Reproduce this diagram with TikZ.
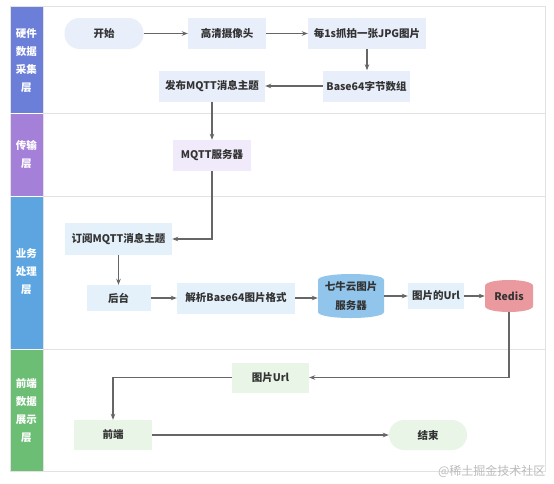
\documentclass[tikz,border=0pt]{standalone}
\usepackage{fontspec}
\setmainfont{Noto Sans CJK SC}
\usetikzlibrary{arrows.meta,calc}
\definecolor{laneA}{HTML}{6C7FD8}
\definecolor{laneB}{HTML}{A580D8}
\definecolor{laneC}{HTML}{5CA5E0}
\definecolor{laneD}{HTML}{6DBE75}
\definecolor{fillA}{HTML}{E9EEFB}
\definecolor{fillB}{HTML}{F0EAFA}
\definecolor{fillC}{HTML}{E4F1FB}
\definecolor{fillD}{HTML}{E8F5E7}
\definecolor{cylC}{HTML}{92C5EC}
\definecolor{cylR}{HTML}{EA9A9F}
\definecolor{txt}{HTML}{333333}
\definecolor{arrowc}{HTML}{666666}
\definecolor{border}{HTML}{E2E2E2}
\definecolor{wm}{HTML}{BBBBBB}
\tikzset{
  box/.style={rectangle, inner sep=0pt, align=center, text=txt,
    font=\fontsize{10.5}{19}\selectfont\bfseries},
  stadium/.style={box, rounded corners=15pt},
  arr/.style={draw=arrowc, line width=1.1pt, -{Stealth[length=6pt,width=4.5pt]}},
  lanelabel/.style={text=white, align=center, font=\fontsize{10.5}{18}\selectfont\bfseries},
}
\newcommand{\cylfill}[5]{% center x, center y, width, height, color
  \fill[#5] ($(#1,#2)+(-#3/2,-#4/2+6)$)
    .. controls ($(#1,#2)+(-#3/2,-#4/2-2)$) and ($(#1,#2)+(#3/2,-#4/2-2)$) .. ($(#1,#2)+(#3/2,-#4/2+6)$)
    -- ($(#1,#2)+(#3/2,#4/2-6)$)
    .. controls ($(#1,#2)+(#3/2,#4/2+2)$) and ($(#1,#2)+(-#3/2,#4/2+2)$) .. ($(#1,#2)+(-#3/2,#4/2-6)$)
    -- cycle;}
\begin{document}
\begin{tikzpicture}[x=1pt,y=-1pt]
\useasboundingbox (0,0) rectangle (554,483);
\fill[white] (0,0) rectangle (554,483);
% lanes
\fill[laneA] (10,6) rectangle (43,113);
\fill[laneB] (10,113) rectangle (43,196);
\fill[laneC] (10,196) rectangle (43,349);
\fill[laneD] (10,349) rectangle (43,471);
\draw[border, line width=0.8pt] (10,6) rectangle (545,471);
\draw[border, line width=0.8pt] (43,6) -- (43,471);
\draw[border, line width=0.8pt] (43,113) -- (545,113);
\draw[border, line width=0.8pt] (43,196) -- (545,196);
\draw[border, line width=0.8pt] (43,349) -- (545,349);
\draw[white, line width=0.6pt] (10,113) -- (43,113) (10,196) -- (43,196) (10,349) -- (43,349);
\node[lanelabel] (l1) at (26.5,61) {硬件\\数据\\采集\\层};
\node[lanelabel] (l2) at (26.5,155) {传输\\层};
\node[lanelabel] (l3) at (26.5,272) {业务\\处理\\层};
\node[lanelabel] (l4) at (26.5,411) {前端\\数据\\展示\\层};
% nodes
\node[stadium, fill=fillA, minimum width=79pt, minimum height=31pt] (start) at (104,33.5) {开始};
\node[box, fill=fillA, minimum width=78pt, minimum height=31pt] (cam) at (227,33.5) {高清摄像头};
\node[box, fill=fillA, minimum width=118pt, minimum height=31pt] (snap) at (367,33.5) {每1s抓拍一张JPG图片};
\node[box, fill=fillA, minimum width=87pt, minimum height=31pt] (b64) at (366.5,86) {Base64字节数组};
\node[box, fill=fillA, minimum width=106pt, minimum height=31pt] (pub) at (212,86) {发布MQTT消息主题};
\node[box, fill=fillB, minimum width=78pt, minimum height=31pt] (mqtt) at (212,155.5) {MQTT服务器};
\node[box, fill=fillC, minimum width=107pt, minimum height=32pt] (sub) at (118.5,239) {订阅MQTT消息主题};
\node[box, fill=fillC, minimum width=64pt, minimum height=26pt] (back) at (118.5,298) {后台};
\node[box, fill=fillC, minimum width=118pt, minimum height=31pt] (parse) at (236,298) {解析Base64图片格式};
\cylfill{351}{296}{66}{44}{cylC}
\node[box, minimum width=66pt, minimum height=44pt] (qiniu) at (351,296) {七牛云图片\\服务器};
\node[box, fill=fillC, minimum width=56pt, minimum height=26pt] (url) at (436,296) {图片的Url};
\cylfill{509}{296}{48}{32}{cylR}
\node[box, minimum width=48pt, minimum height=32pt] (redis) at (509,296) {Redis};
\node[box, fill=fillD, minimum width=77pt, minimum height=30pt] (picurl) at (270.5,377.5) {图片Url};
\node[box, fill=fillD, minimum width=78pt, minimum height=30pt] (front) at (113,435) {前端};
\node[stadium, fill=fillD, minimum width=78pt, minimum height=30pt] (end) at (428,435) {结束};
% connectors
\draw[arr] (start) -- (cam);
\draw[arr] (cam) -- (snap);
\draw[arr] (snap.south) -- (snap.south |- b64.north);
\draw[arr] (b64) -- (pub);
\draw[arr] (pub) -- (mqtt);
\draw[arr] (mqtt.south) |- (sub.east);
\draw[arr] (sub) -- (back);
\draw[arr] (back) -- (parse);
\draw[arr] (parse.east) -- (parse.east -| qiniu.west);
\draw[arr] (qiniu) -- (url);
\draw[arr] (url) -- (redis);
\draw[arr] (redis.south) |- (picurl.east);
\draw[arr] (picurl.west) -| (front.north);
\draw[arr] (front) -- (end);
% watermark
\node[text=wm, font=\fontsize{12}{14}\selectfont, anchor=east] (wmk) at (549,471) {@稀土掘金技术社区};
\end{tikzpicture}
\end{document}
